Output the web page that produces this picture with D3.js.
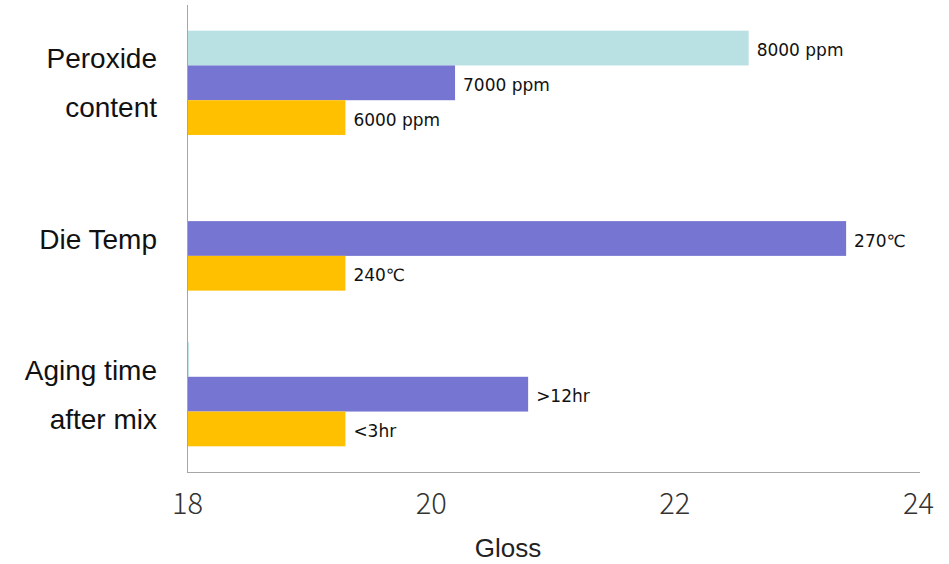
<!DOCTYPE html>
<html>
<head>
<meta charset="utf-8">
<script src="https://cdn.jsdelivr.net/npm/d3@7/dist/d3.min.js"></script>
<style>
  html, body { margin: 0; padding: 0; background: #fff; }
  svg { display: block; font-family: "Liberation Sans", Arial, sans-serif; }
</style>
</head>
<body>
<svg id="chart" width="949" height="564"></svg>
<script>
// ---- data ----
const categories = ["Peroxide content", "Die Temp", "Aging time after mix"];
const categoryLines = [["Peroxide", "content"], ["Die Temp"], ["Aging time", "after mix"]];
const seriesNames = ["high", "mid", "low"];
const highValues = [22.61, null, 18.015];
const highLabels = ["8000 ppm", "", ""];
const midValues = [20.2, 23.41, 20.8];
const midLabels = ["7000 ppm", "270℃", ">12hr"];
const lowValues = [19.3, 19.3, 19.3];
const lowLabels = ["6000 ppm", "240℃", "<3hr"];
const xTicks = [18, 20, 22, 24];
const xTitle = "Gloss";

const seriesColors = { high: "#b9e0e3", mid: "#7676d2", low: "#ffc000" };
const seriesData = {
  high: { values: highValues, labels: highLabels },
  mid: { values: midValues, labels: midLabels },
  low: { values: lowValues, labels: lowLabels }
};

// ---- layout ----
const svg = d3.select("#chart");
const plotL = 187, plotR = 918, plotT = 5, plotB = 472;

const x = d3.scaleLinear().domain([18, 24]).range([plotL, plotR]);
const y = d3.scaleBand().domain(categories).range([plotT, plotB])
  .paddingInner(0.33).paddingOuter(0.165);
const ySub = d3.scaleBand().domain(seriesNames).range([0, y.bandwidth()]);

// bars
const barData = [];
categories.forEach((c, i) => {
  seriesNames.forEach(s => {
    const v = seriesData[s].values[i];
    if (v != null) barData.push({ cat: c, s, v, label: seriesData[s].labels[i] });
  });
});

svg.append("g").selectAll("rect").data(barData).join("rect")
  .attr("x", x(18))
  .attr("y", d => y(d.cat) + ySub(d.s))
  .attr("width", d => Math.max(0, x(d.v) - x(18)))
  .attr("height", ySub.bandwidth())
  .attr("fill", d => seriesColors[d.s]);

svg.append("g").selectAll("text").data(barData.filter(d => d.label)).join("text")
  .attr("x", d => x(d.v) + 8)
  .attr("y", d => y(d.cat) + ySub(d.s) + ySub.bandwidth() / 2 + 8)
  .attr("font-family", "'DejaVu Sans', sans-serif")
  .attr("font-size", 17)
  .attr("fill", "#111")
  .text(d => d.label);

// axes
const xAxis = svg.append("g").attr("transform", `translate(0,${plotB})`)
  .call(d3.axisBottom(x).tickValues(xTicks).tickSize(0).tickPadding(20).tickFormat(d3.format("d")));
xAxis.select(".domain").attr("stroke", "#a6a6a6").attr("d", `M${plotL},0.5H${plotR + 2}`);
xAxis.selectAll("text").attr("font-size", 29).attr("fill", "#333")
  .attr("font-family", "'Noto Sans CJK KR', sans-serif").attr("font-weight", 300)
  .attr("dy", null).attr("y", 42);

const yAxis = svg.append("g").attr("transform", `translate(${plotL},0)`)
  .call(d3.axisLeft(y).tickSize(0).tickFormat(""));
yAxis.select(".domain").attr("stroke", "#a6a6a6").attr("d", `M0.5,${plotT}V${plotB}`);

// category labels
categories.forEach((c, i) => {
  const lines = categoryLines[i];
  const cy = y(c) + y.bandwidth() / 2;
  lines.forEach((ln, j) => {
    svg.append("text")
      .attr("x", 157)
      .attr("y", cy + (j - (lines.length - 1) / 2) * 49 + 10)
      .attr("text-anchor", "end")
      .attr("font-size", 28)
      .attr("fill", "#111")
      .text(ln);
  });
});

// x title
svg.append("text")
  .attr("x", 508)
  .attr("y", 557)
  .attr("text-anchor", "middle")
  .attr("font-size", 26)
  .attr("fill", "#222")
  .text(xTitle);
</script>
</body>
</html>
